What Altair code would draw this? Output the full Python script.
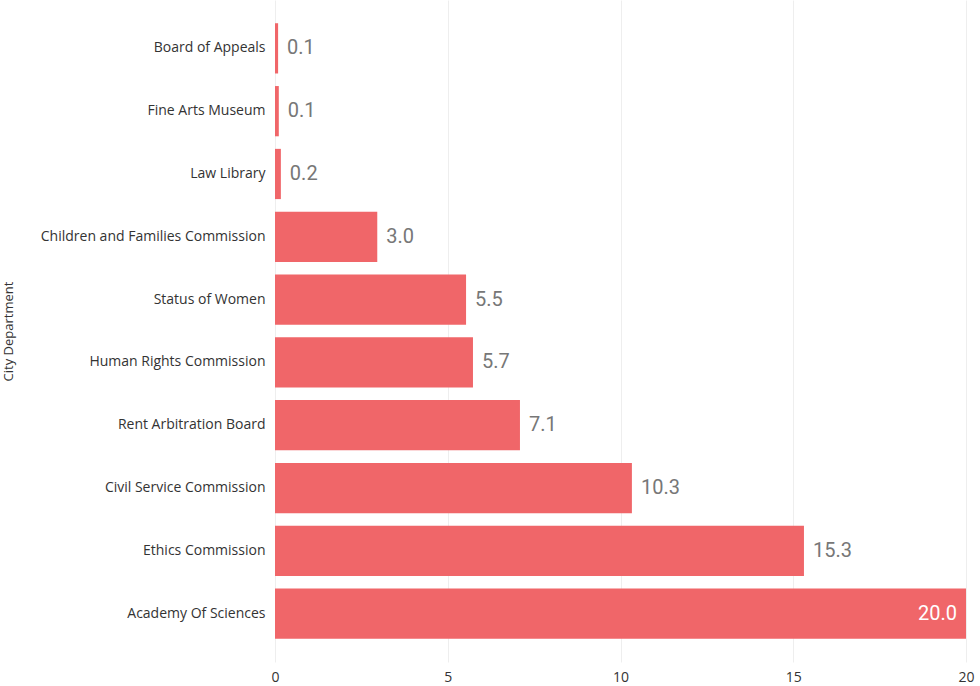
import altair as alt
import pandas as pd

departments = [
    "Board of Appeals",
    "Fine Arts Museum",
    "Law Library",
    "Children and Families Commission",
    "Status of Women",
    "Human Rights Commission",
    "Rent Arbitration Board",
    "Civil Service Commission",
    "Ethics Commission",
    "Academy Of Sciences",
]
values = [0.09, 0.11, 0.17, 2.96, 5.53, 5.73, 7.09, 10.33, 15.31, 20.0]

df = pd.DataFrame({"dept": departments, "value": values})
df["label"] = df["value"].map(lambda v: f"{v:.1f}")
max_v = max(values)

y_enc = alt.Y(
    "dept:N",
    sort=departments,
    title="City Department",
    scale=alt.Scale(paddingInner=0.2, paddingOuter=0.37),
    axis=alt.Axis(
        labelFont="Open Sans",
        labelFontSize=14,
        labelColor="#333333",
        labelPadding=10,
        labelLimit=400,
        ticks=False,
        domain=False,
        grid=False,
        titleFont="Open Sans",
        titleFontSize=13,
        titleFontWeight="normal",
        titleColor="#333333",
        titleX=-267,
        titleY=331,
        titleAngle=-90,
        titleAlign="center",
        titleBaseline="middle",
    ),
)
x_enc = alt.X(
    "value:Q",
    title=None,
    scale=alt.Scale(domain=[0, 20], nice=False),
    axis=alt.Axis(
        values=[0, 5, 10, 15, 20],
        labelFont="Open Sans",
        labelFontSize=14,
        labelColor="#333333",
        labelPadding=8,
        ticks=False,
        domain=False,
        grid=True,
        gridColor="#eeeeee",
        labelFlush=False,
    ),
)

base = alt.Chart(df)
bars = base.mark_bar(color="#F06669").encode(x=x_enc, y=y_enc)
outside = base.transform_filter(alt.datum.value < max_v).mark_text(
    align="left", baseline="middle", dx=9, font="Roboto", fontSize=20, color="#777777"
).encode(x="value:Q", y=alt.Y("dept:N", sort=departments), text="label:N")
inside = base.transform_filter(alt.datum.value >= max_v).mark_text(
    align="right", baseline="middle", dx=-9, font="Roboto", fontSize=20, color="#ffffff"
).encode(x="value:Q", y=alt.Y("dept:N", sort=departments), text="label:N")

chart = (
    alt.layer(bars, outside, inside)
    .properties(
        width=691,
        height=662,
        autosize=alt.AutoSizeParams(type="none"),
        padding={"left": 275, "top": 0, "right": 14, "bottom": 24},
    )
    .configure_view(stroke=None)
)

chart.save("out.html", embed_options={"renderer": "svg", "actions": False})
